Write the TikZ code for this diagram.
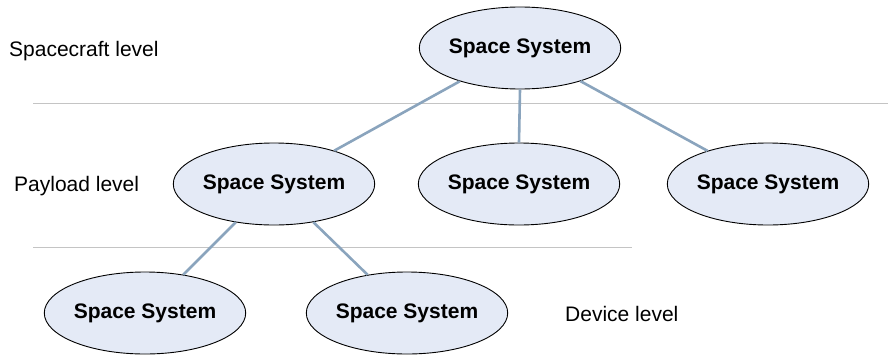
\documentclass[tikz,border=0pt]{standalone}
\usepackage{fontspec}
\setmainfont{Liberation Sans}
\usetikzlibrary{shapes.geometric}
\definecolor{nodefill}{RGB}{228,234,246}
\definecolor{linkcol}{RGB}{138,164,189}
\definecolor{rulecol}{RGB}{196,196,196}
\tikzset{
  sysnode/.style={ellipse, draw=black, line width=0.9pt, fill=nodefill,
    minimum width=188pt, minimum height=82pt, inner sep=0pt,
    font=\fontsize{21}{24}\selectfont\bfseries},
  link/.style={draw=linkcol, line width=2.6pt},
  levelrule/.style={draw=rulecol, line width=1pt},
  levellabel/.style={anchor=west, inner sep=0pt, font=\fontsize{21}{24}\selectfont}
}
\begin{document}
\begin{tikzpicture}[x=1pt,y=-1pt]
\useasboundingbox (0,0) rectangle (888,356);
% level separators
\coordinate (r1a) at (33,103);
\coordinate (r1b) at (888,103);
\coordinate (r2a) at (33,247);
\coordinate (r2b) at (632,247);
\draw[levelrule] (r1a) -- (r1b);
\draw[levelrule] (r2a) -- (r2b);
% level labels
\node[levellabel] (lsc) at (9,51) {Spacecraft level};
\node[levellabel] (lpl) at (14,186) {Payload level};
\node[levellabel] (ldv) at (565,314) {Device level};
% system nodes
\node[sysnode] (top) at (520,48) {Space System};
\node[sysnode] (p1) at (274,184) {Space System};
\node[sysnode] (p2) at (519,184) {Space System};
\node[sysnode] (p3) at (768,184) {Space System};
\node[sysnode] (d1) at (145,313) {Space System};
\node[sysnode] (d2) at (407,313) {Space System};
% connectors
\draw[link] (top) -- (p1);
\draw[link] (top.south) -- (p2.north);
\draw[link] (top) -- (p3);
\draw[link] (p1) -- (d1);
\draw[link] (p1) -- (d2);
\end{tikzpicture}
\end{document}
